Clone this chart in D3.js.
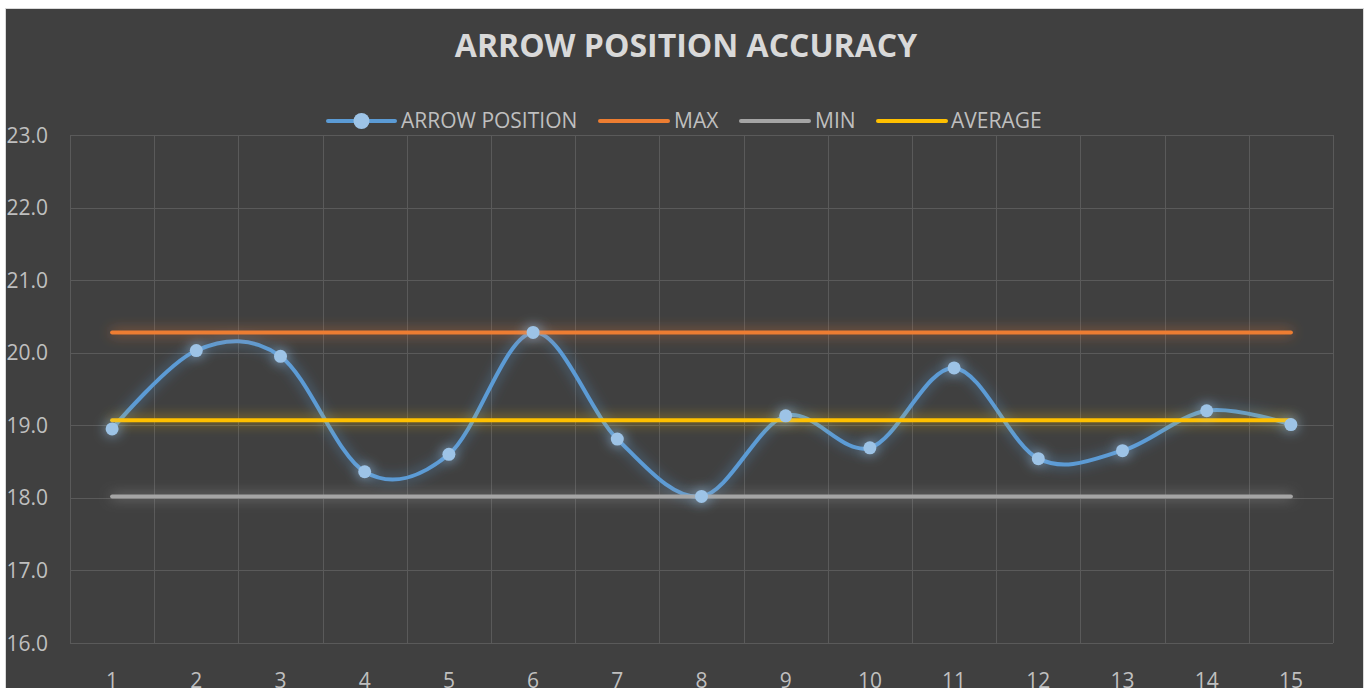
<!DOCTYPE html>
<html>
<head>
<meta charset="utf-8">
<title>Arrow position accuracy</title>
<style>
  body { margin: 0; background: #ffffff; }
  svg { display: block; }
  text { font-family: "Open Sans", sans-serif; }
</style>
</head>
<body>
<svg width="1367" height="688"></svg>
<script src="https://cdn.jsdelivr.net/npm/d3@7"></script>
<script>
// data
var shots = [1, 2, 3, 4, 5, 6, 7, 8, 9, 10, 11, 12, 13, 14, 15];
var arrowPosition = [18.95, 20.03, 19.95, 18.36, 18.60, 20.28, 18.81, 18.02, 19.13, 18.69, 19.79, 18.54, 18.65, 19.20, 19.01];
var maxLine = [20.28, 20.28, 20.28, 20.28, 20.28, 20.28, 20.28, 20.28, 20.28, 20.28, 20.28, 20.28, 20.28, 20.28, 20.28];
var minLine = [18.02, 18.02, 18.02, 18.02, 18.02, 18.02, 18.02, 18.02, 18.02, 18.02, 18.02, 18.02, 18.02, 18.02, 18.02];
var avgLine = [19.07, 19.07, 19.07, 19.07, 19.07, 19.07, 19.07, 19.07, 19.07, 19.07, 19.07, 19.07, 19.07, 19.07, 19.07];
var yTicks = [16, 17, 18, 19, 20, 21, 22, 23];

var series = [
  {name: "ARROW POSITION", values: arrowPosition, color: "#5b9bd5", marker: true},
  {name: "MAX", values: maxLine, color: "#ed7d31"},
  {name: "MIN", values: minLine, color: "#a5a5a5"},
  {name: "AVERAGE", values: avgLine, color: "#ffc000"}
];

var svg = d3.select("svg");
var plot = {left: 70, right: 1333, top: 135, bottom: 643};

// outer chart area
svg.append("rect")
  .attr("x", 5.5).attr("y", 8.5)
  .attr("width", 1358).attr("height", 700)
  .attr("fill", "#404040")
  .attr("stroke", "#d9d9d9");

// glow filter (user space so flat lines keep it)
var defs = svg.append("defs");
var f = defs.append("filter").attr("id", "glow")
  .attr("filterUnits", "userSpaceOnUse")
  .attr("x", 0).attr("y", 0).attr("width", 1367).attr("height", 688);
f.append("feGaussianBlur").attr("in", "SourceGraphic").attr("stdDeviation", 6.5).attr("result", "b");
f.append("feComponentTransfer").attr("in", "b").attr("result", "bb")
  .append("feFuncA").attr("type", "linear").attr("slope", 0.75);
var m = f.append("feMerge");
m.append("feMergeNode").attr("in", "bb");
m.append("feMergeNode").attr("in", "SourceGraphic");

var x = d3.scaleBand().domain(shots).range([plot.left, plot.right]);
var y = d3.scaleLinear().domain([16, 23]).range([plot.bottom, plot.top]);
var cx = function(d, i) { return x(shots[i]) + x.bandwidth() / 2; };

// gridlines
var grid = svg.append("g").attr("stroke", "#5a5a5a").attr("stroke-width", 1);
grid.selectAll(".h").data(yTicks).enter().append("line")
  .attr("x1", plot.left).attr("x2", plot.right)
  .attr("y1", function(d) { return Math.round(y(d)) + 0.5; })
  .attr("y2", function(d) { return Math.round(y(d)) + 0.5; });
grid.selectAll(".v").data(shots.concat([null])).enter().append("line")
  .attr("x1", function(d, i) { return Math.round(plot.left + i * x.bandwidth()) + 0.5; })
  .attr("x2", function(d, i) { return Math.round(plot.left + i * x.bandwidth()) + 0.5; })
  .attr("y1", plot.top).attr("y2", plot.bottom);

// axis labels
svg.append("g").selectAll("text").data(yTicks).enter().append("text")
  .attr("x", 48).attr("y", function(d) { return y(d) + 7.5; })
  .attr("text-anchor", "end")
  .attr("font-size", 21).attr("fill", "#bfbfbf")
  .text(function(d) { return d3.format(".1f")(d); });

svg.append("g").selectAll("text").data(shots).enter().append("text")
  .attr("x", function(d) { return x(d) + x.bandwidth() / 2; })
  .attr("y", 688)
  .attr("text-anchor", "middle")
  .attr("font-size", 21).attr("fill", "#bfbfbf")
  .text(function(d) { return d; });

// title
svg.append("text")
  .attr("x", 686).attr("y", 57)
  .attr("text-anchor", "middle")
  .attr("font-size", 32).attr("font-weight", "bold").attr("fill", "#d9d9d9")
  .text("ARROW POSITION ACCURACY");

// lines
series.forEach(function(s) {
  var line = d3.line()
    .x(cx)
    .y(function(d) { return y(d); })
    .curve(s.marker ? d3.curveCardinal.tension(0) : d3.curveLinear);
  svg.append("path")
    .datum(s.values)
    .attr("d", line)
    .attr("fill", "none")
    .attr("stroke", s.color)
    .attr("stroke-width", 4)
    .attr("stroke-linecap", "round")
    .attr("filter", "url(#glow)");
});

// markers
svg.append("g").attr("filter", "url(#glow)")
  .selectAll("circle").data(arrowPosition).enter().append("circle")
  .attr("cx", cx)
  .attr("cy", function(d) { return y(d); })
  .attr("r", 6.5)
  .attr("fill", "#9dc3e6");

// legend
var legendItems = [
  {x1: 328, x2: 395, tx: 401},
  {x1: 600, x2: 668, tx: 674},
  {x1: 741, x2: 809, tx: 815},
  {x1: 878, x2: 946, tx: 951}
];
var lg = svg.append("g");
series.forEach(function(s, i) {
  var it = legendItems[i];
  lg.append("line")
    .attr("x1", it.x1).attr("x2", it.x2)
    .attr("y1", 121).attr("y2", 121)
    .attr("stroke", s.color).attr("stroke-width", 4)
    .attr("stroke-linecap", "round");
  if (s.marker) {
    lg.append("circle")
      .attr("cx", (it.x1 + it.x2) / 2).attr("cy", 121).attr("r", 8)
      .attr("fill", "#9dc3e6");
  }
  lg.append("text")
    .attr("x", it.tx).attr("y", 128)
    .attr("font-size", 21).attr("fill", "#bfbfbf")
    .text(s.name);
});
</script>
</body>
</html>
